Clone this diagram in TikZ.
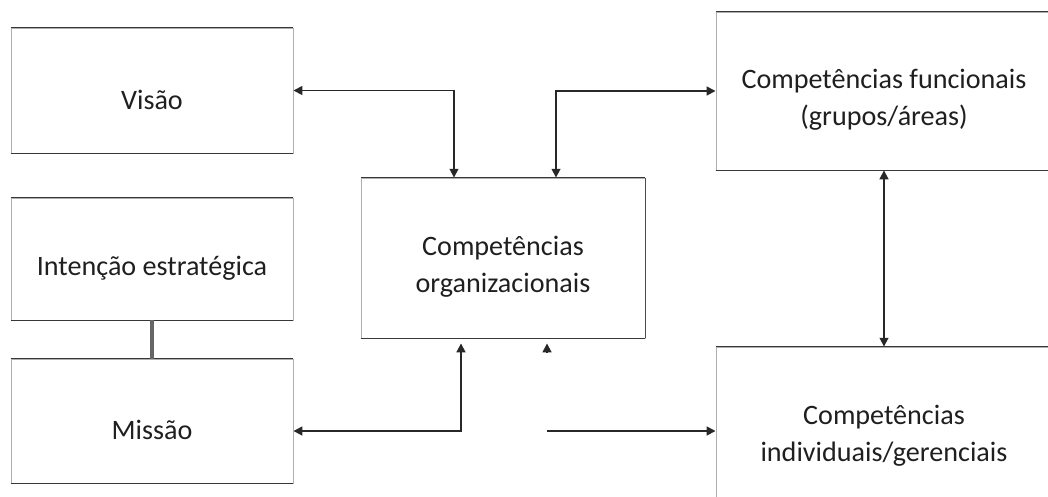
\documentclass[tikz,border=0pt]{standalone}
\usepackage{fontspec}
\setmainfont{Carlito}
\usepackage{tikz}
\usetikzlibrary{arrows.meta, positioning}
\definecolor{linha}{RGB}{40, 40, 40}
\definecolor{borda}{RGB}{175, 175, 175}

\begin{document}
\begin{tikzpicture}[x=0.025cm, y=-0.025cm,
    >={Triangle[length=0.22cm, width=0.22cm]},
    caixa/.style={rectangle, draw=borda, line width=0.6pt, inner sep=0pt},
    texto/.style={font=\fontsize{20}{26}\selectfont, align=center, text=black!88, yshift=-0.225cm},
    topo/.style={draw=black!78, line width=1.3pt},
    seta/.style={draw=linha, line width=1.2pt}]

    % margens da figura
    \useasboundingbox (0,0) rectangle (1048,496);
    \clip (0,0) rectangle (1048,496);

    % Caixas da esquerda
    \node[caixa, minimum width=7.05cm, minimum height=3.125cm, label={[texto]center:Visão}] (visao) at (152,90.5) {};
    \node[caixa, minimum width=7.05cm, minimum height=3.05cm, label={[texto]center:Intenção estratégica}] (intencao) at (152,259) {};
    \node[caixa, minimum width=7.05cm, minimum height=3.1cm, label={[texto]center:Missão}] (missao) at (152,421) {};

    % Caixa do meio
    \node[caixa, minimum width=7.1cm, minimum height=4cm, label={[texto]center:Competências\\organizacionais}] (org) at (503,258) {};

    % Caixas da direita (cortadas pela margem)
    \node[caixa, minimum width=8.4cm, minimum height=3.95cm, label={[texto]center:Competências funcionais\\(grupos/áreas)}] (func) at (884,91) {};
    \node[caixa, minimum width=8.4cm, minimum height=4cm, label={[texto]center:Competências\\individuais/gerenciais}] (indiv) at (884,427) {};

    % linhas horizontais mais escuras
    \foreach \c in {visao, intencao, missao, org, func, indiv} {
        \draw[topo] (\c.north west) -- (\c.north east);
        \draw[topo] (\c.south west) -- (\c.south east);
    }
    \draw[seta, draw=black!70] (org.north east) -- (org.south east);

    % Intenção -- Missão
    \draw[draw=black!60, line width=2.2pt] (intencao) -- (missao);

    % setas para a caixa do meio
    \draw[seta, <->] (visao.east) -| ([xshift=-1.225cm]org.north);
    \draw[seta, <->] ([xshift=1.325cm]org.north) |- (func.west);
    \draw[seta, <->] ([yshift=-0.25cm]missao.east) -| ([xshift=-1.05cm, yshift=-0.125cm]org.south);

    % ponta solta embaixo da caixa do meio
    \draw[seta, ->] ([xshift=1.1cm, yshift=-0.35cm]org.south) -- ([xshift=1.1cm, yshift=-0.125cm]org.south);

    % ramal para as competências individuais
    \coordinate (ramal) at (547,431);
    \draw[seta, ->] (ramal) -- (ramal -| indiv.west);

    % funcionais <-> individuais
    \draw[seta, <->] (func.south) -- (indiv.north);

\end{tikzpicture}
\end{document}
